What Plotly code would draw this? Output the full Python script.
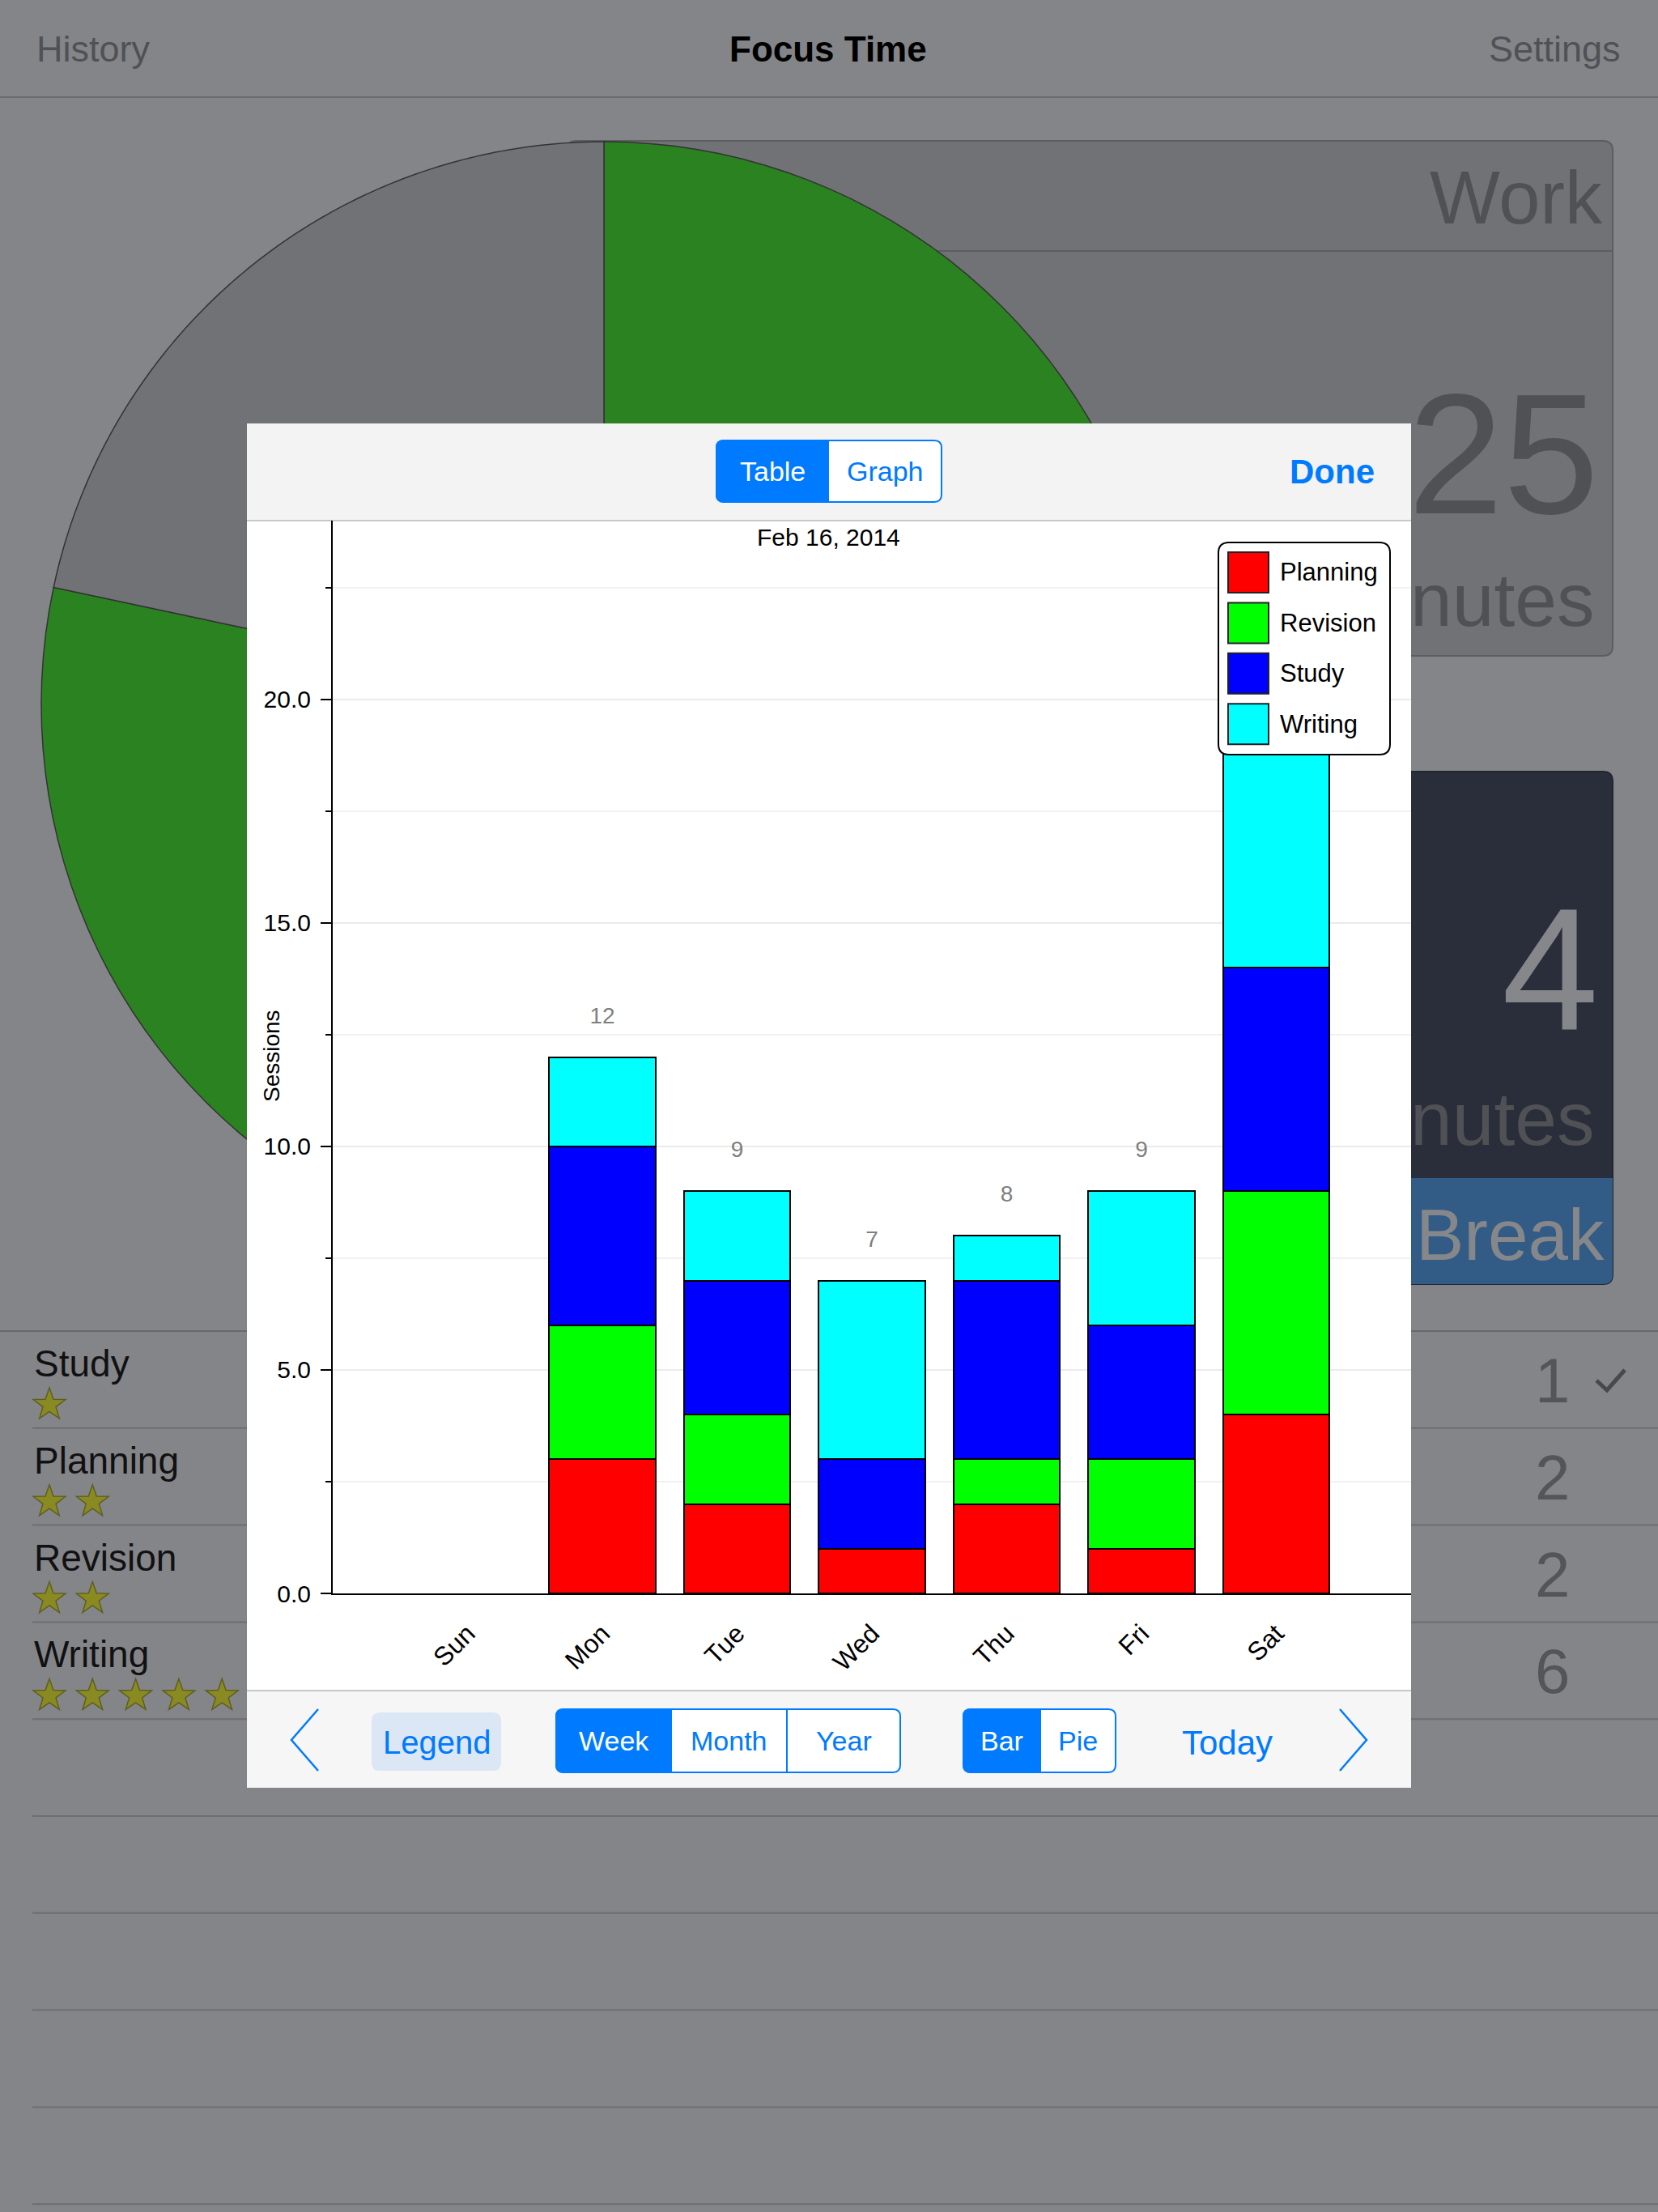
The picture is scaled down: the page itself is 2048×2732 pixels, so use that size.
import numpy as np
import plotly.graph_objects as go

# ---------------- data ----------------
days = ["Sun", "Mon", "Tue", "Wed", "Thu", "Fri", "Sat"]
planning = [0, 3, 2, 1, 2, 1, 4]
revision = [0, 3, 2, 0, 1, 2, 5]
study = [0, 4, 3, 2, 4, 3, 5]
writing = [0, 2, 2, 4, 1, 3, 6]
series_names = ["Planning", "Revision", "Study", "Writing"]
chart_title = "Feb 16, 2014"
y_title = "Sessions"

task_names = ["Study", "Planning", "Revision", "Writing"]
task_stars = [1, 2, 2, 5]
task_counts = [1, 2, 2, 6]

# ---------------- styles ----------------
W, H = 2048, 2732
FONT = "Liberation Sans, Arial, Helvetica, sans-serif"
series_colors = ["#ff0000", "#00ff00", "#0000ff", "#00ffff"]
BG = "#848589"
DARK = "#717276"
BLUE = "#007aff"
TXT_DIM = "#505155"

def X(px):
    return px / W

def Y(py):
    return 1 - py / H

shapes = []
annots = []

def add_path(path, fill=None, line=None, lw=0, layer="below"):
    shapes.append(dict(type="path", xref="paper", yref="paper", path=path,
                       fillcolor=fill or "rgba(0,0,0,0)",
                       line=dict(color=line or "rgba(0,0,0,0)", width=lw),
                       layer=layer))

def add_rect(x0, y0, x1, y1, fill, line=None, lw=0, layer="below"):
    shapes.append(dict(type="rect", xref="paper", yref="paper",
                       x0=X(x0), x1=X(x1), y0=Y(y1), y1=Y(y0),
                       fillcolor=fill, line=dict(color=line or "rgba(0,0,0,0)", width=lw),
                       layer=layer))

def add_line(x0, y0, x1, y1, color, lw, layer="below"):
    shapes.append(dict(type="line", xref="paper", yref="paper",
                       x0=X(x0), x1=X(x1), y0=Y(y0), y1=Y(y1),
                       line=dict(color=color, width=lw), layer=layer))

def poly(points, close=True):
    s = "M" + " L".join(f"{X(x):.5f},{Y(y):.5f}" for x, y in points)
    return s + (" Z" if close else "")

def rrect(x0, y0, x1, y1, r, corners=(1, 1, 1, 1)):
    tl, tr, br, bl = [r * c for c in corners]
    P = lambda x, y: f"{X(x):.5f},{Y(y):.5f}"
    return (f"M{P(x0 + tl, y0)} L{P(x1 - tr, y0)} Q{P(x1, y0)} {P(x1, y0 + tr)} "
            f"L{P(x1, y1 - br)} Q{P(x1, y1)} {P(x1 - br, y1)} "
            f"L{P(x0 + bl, y1)} Q{P(x0, y1)} {P(x0, y1 - bl)} "
            f"L{P(x0, y0 + tl)} Q{P(x0, y0)} {P(x0 + tl, y0)} Z")

def text(s, x, y, size, color, xanchor="center", yanchor="middle", bold=False, angle=0):
    annots.append(dict(text=f"<b>{s}</b>" if bold else s, x=X(x), y=Y(y),
                       xref="paper", yref="paper", showarrow=False,
                       xanchor=xanchor, yanchor=yanchor, textangle=angle,
                       font=dict(size=size, color=color, family=FONT)))

def star(cx, cy, R):
    pts = []
    for i in range(10):
        a = np.radians(i * 36)
        r = R if i % 2 == 0 else R * 0.40
        pts.append((cx + r * np.sin(a), cy - r * np.cos(a)))
    return poly(pts)

def sector(cx, cy, R, a0, a1, n=120):
    angs = np.radians(np.linspace(a0, a1, n))
    pts = [(cx, cy)] + [(cx + R * np.sin(a), cy - R * np.cos(a)) for a in angs]
    return poly(pts)

# ---------------- background app UI ----------------
add_line(0, 120, W, 120, "#6a6b6f", 2)
text("History", 43, 61, 45, TXT_DIM, xanchor="left")
text("Focus Time", 1023, 61, 44, "#000000", bold=True)
text("Settings", 2004, 61, 45, TXT_DIM, xanchor="right")

# Work panel
add_path(rrect(700, 174, 1992, 810, 12), fill=DARK, line="#5c5d61", lw=2)
add_line(700, 310, 1992, 310, "#5c5d61", 2)
# Break panel
add_path(rrect(1100, 953, 1992, 1586, 12), fill="#292e3a", line="#222630", lw=2)
add_path(rrect(1100, 1455, 1992, 1586, 12, corners=(0, 0, 1, 1)), fill="#325c85")

# timer dial
PCX, PCY, PR = 746, 870, 695
add_path(sector(PCX, PCY, PR, 0, 282), fill="#2a8320", line="#333333", lw=1.5)
add_path(sector(PCX, PCY, PR, 282, 360), fill=DARK, line="#333333", lw=1.5)

text("Work", 1982, 244, 92, TXT_DIM, xanchor="right")
text("25", 1977, 560, 212, TXT_DIM, xanchor="right")
text("nutes", 1972, 741, 93, TXT_DIM, xanchor="right")
text("4", 1977, 1198, 215, "#86878b", xanchor="right")
text("nutes", 1972, 1382, 93, TXT_DIM, xanchor="right")
text("Break", 1984, 1525, 89, "#86878b", xanchor="right")

# task list
ROW = 119.8
add_line(0, 1644, W, 1644, "#68696d", 2)
for i in range(1, 10):
    yy = 1644 + ROW * i
    add_line(40, yy, W, yy, "#6d6e72", 2)
for i, (nm, ns, cnt) in enumerate(zip(task_names, task_stars, task_counts)):
    top = 1644 + ROW * i
    text(nm, 40, top + 40, 46, "#111111", xanchor="left")
    for k in range(ns):
        add_path(star(61 + 53.3 * k, top + 91, 21), fill="#8a8a22", line="#5e5e22", lw=1.5)
    text(str(cnt), 1917, top + 61, 78, "#545559")
add_path(poly([(1972, 1705), (1985, 1717), (2007, 1692)], close=False), line="#48494d", lw=5)

# ---------------- modal ----------------
MX0, MX1, MY0, MY1 = 305, 1743, 523, 2208
add_rect(MX0, MY0, MX1, MY1, "#ffffff")
add_rect(MX0, MY0, MX1, 643, "#f3f3f3")
add_line(MX0, 643, MX1, 643, "#c8c8c8", 2)
add_rect(MX0, 2088, MX1, MY1, "#f6f6f6")
add_line(MX0, 2088, MX1, 2088, "#c8c8c8", 2)

def segmented(x0, y0, x1, y1, divs, labels, sel, size):
    add_path(rrect(x0, y0, x1, y1, 9), fill="#ffffff", line=BLUE, lw=2)
    edges = [x0] + divs + [x1]
    sx0, sx1 = edges[sel], edges[sel + 1]
    corners = (1 if sel == 0 else 0, 1 if sel == len(labels) - 1 else 0,
               1 if sel == len(labels) - 1 else 0, 1 if sel == 0 else 0)
    add_path(rrect(sx0, y0, sx1, y1, 9, corners=corners), fill=BLUE, line=BLUE, lw=2)
    for d in divs:
        add_line(d, y0, d, y1, BLUE, 2)
    for k, lab in enumerate(labels):
        text(lab, (edges[k] + edges[k + 1]) / 2, (y0 + y1) / 2, size,
             "#ffffff" if k == sel else BLUE)

segmented(885, 544, 1163, 620, [1023], ["Table", "Graph"], 0, 34)
text("Done", 1700, 583, 42, BLUE, xanchor="right", bold=True)

add_path(poly([(393, 2111), (360, 2149), (393, 2187)], close=False), line=BLUE, lw=2.5)
add_path(rrect(459, 2115, 619, 2187, 10), fill="#dce7f5")
text("Legend", 539, 2152, 40, BLUE)
segmented(687, 2111, 1112, 2189, [829, 972], ["Week", "Month", "Year"], 0, 34)
segmented(1190, 2111, 1378, 2189, [1285], ["Bar", "Pie"], 0, 34)
text("Today", 1516, 2152, 42, BLUE)
add_path(poly([(1655, 2111), (1688, 2149), (1655, 2187)], close=False), line=BLUE, lw=2.5)

# chart labels
text(chart_title, 1023, 664, 30, "#000000")
text(y_title, 336, 1304, 28, "#000000", angle=-90)

# custom legend (drawn over the plot, hides what lies behind it)
LEG_X0, LEG_Y0, LEG_X1, LEG_Y1 = 1505, 670, 1717, 932
add_path(rrect(LEG_X0, LEG_Y0, LEG_X1, LEG_Y1, 13), fill="#ffffff", line="#000000", lw=2, layer="above")
for i, (nm, col) in enumerate(zip(series_names, series_colors)):
    yy = 682 + 62.4 * i
    add_rect(1517, yy, 1567, yy + 50, col, line="#222222", lw=2, layer="above")
    text(nm, 1579, yy + 25, 31, "#000000", xanchor="left")

# ---------------- chart ----------------
Y_MAX = 24
PLOT_TOP, PLOT_BOT = 643, 1968
PX_PER_UNIT = (PLOT_BOT - PLOT_TOP) / Y_MAX

fig = go.Figure()
for nm, vals, col in zip(series_names, [planning, revision, study, writing], series_colors):
    fig.add_trace(go.Bar(x=days, y=vals, name=nm, width=0.79,
                         marker=dict(color=col,
                                     line=dict(color="#000000",
                                               width=[2 if v > 0 else 0 for v in vals]))))

totals = [a + b + c + d for a, b, c, d in zip(planning, revision, study, writing)]
label_gap = 49 / PX_PER_UNIT
legend_low = (PLOT_BOT - LEG_Y1) / PX_PER_UNIT   # value at legend bottom
lab_x, lab_y, lab_t = [], [], []
for i, (d, t) in enumerate(zip(days, totals)):
    # label is hidden behind the legend box for the last day in the reference
    if t > 0 and not (t + label_gap > legend_low and i == len(days) - 1):
        lab_x.append(d)
        lab_y.append(t + label_gap)
        lab_t.append(str(t))
fig.add_trace(go.Scatter(x=lab_x, y=lab_y, text=lab_t, mode="text",
                         textfont=dict(size=28, color="#7f7f7f", family=FONT)))

fig.update_layout(
    width=W, height=H, autosize=False,
    margin=dict(l=0, r=0, t=0, b=0, pad=0, autoexpand=False),
    paper_bgcolor=BG, plot_bgcolor="rgba(0,0,0,0)",
    barmode="stack", showlegend=False,
    font=dict(family=FONT, color="#000000"),
    shapes=shapes, annotations=annots,
    xaxis=dict(domain=[X(411), X(1743)], type="category", range=[-1, 7],
               automargin=False,
               showline=True, linecolor="#000000", linewidth=2, ticks="",
               showgrid=False, zeroline=False, tickangle=-45,
               ticklabelstandoff=16,
               tickfont=dict(size=32, color="#000000", family=FONT)),
    yaxis=dict(domain=[Y(PLOT_BOT), Y(PLOT_TOP)], range=[0, Y_MAX],
               automargin=False,
               tickmode="linear", tick0=0, dtick=5, tickformat=".1f",
               ticks="outside", ticklen=13, tickwidth=2, tickcolor="#000000",
               showline=True, linecolor="#000000", linewidth=2,
               showgrid=True, gridcolor="#ebebeb", gridwidth=1.5, zeroline=False,
               tickfont=dict(size=30, color="#000000", family=FONT),
               ticklabelstandoff=6,
               minor=dict(dtick=2.5, tick0=0, ticks="outside", ticklen=7, tickwidth=2,
                          tickcolor="#000000", showgrid=True, gridcolor="#f1f1f1",
                          gridwidth=1.5)),
)

fig.write_html("out.html", config={"displayModeBar": False})
